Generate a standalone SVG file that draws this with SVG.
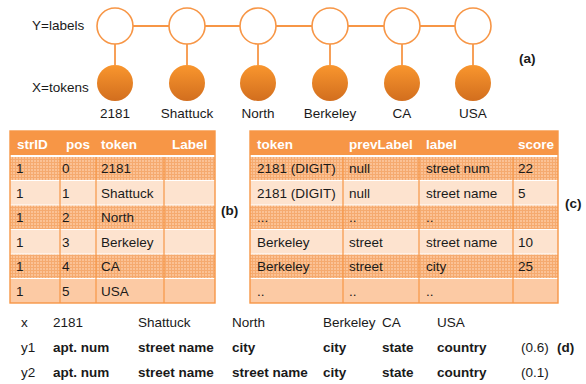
<svg xmlns="http://www.w3.org/2000/svg" width="586" height="384" viewBox="0 0 586 384">
<defs>
<linearGradient id="fillG" x1="0" y1="0" x2="0" y2="1">
<stop offset="0" stop-color="#F9962E"/>
<stop offset="1" stop-color="#D26E1E"/>
</linearGradient>
<pattern id="hatch" width="3" height="3" patternUnits="userSpaceOnUse">
<rect width="3" height="3" fill="#FBC295"/>
<path d="M0 0.5H3M0.5 0V3" stroke="#F3A263" stroke-width="1" opacity="0.75"/>
</pattern>
<style>
text{font-family:"Liberation Sans",Arial,sans-serif;font-size:13.5px;fill:#1a1a1a}
.b{font-weight:bold}
.hd{font-weight:bold;fill:#ffffff}
.d{font-size:13.5px}
.hollow{fill:#ffffff;stroke:#F79646;stroke-width:1.6}
.solid{fill:url(#fillG)}
.edge{stroke:#F79646;stroke-width:1.8;fill:none}
.hdr{fill:#F79646}
.rh{fill:url(#hatch)}
.rl{fill:#FDE3CF}
.rm{fill:#FCCAA4}
.hl{stroke:#ffffff;stroke-width:1.2}
.vl{stroke:#F79646;stroke-width:1.2}
.out{fill:none;stroke:#F79646;stroke-width:1.4}
.mid{text-anchor:middle}
</style>
</defs>

<!-- (a) chain -->
<g id="connectors">
<line class="edge" x1="133" y1="26" x2="169" y2="26"/>
<line class="edge" x1="205" y1="26" x2="240" y2="26"/>
<line class="edge" x1="276" y1="26" x2="312" y2="26"/>
<line class="edge" x1="348" y1="26" x2="384" y2="26"/>
<line class="edge" x1="420" y1="26" x2="455" y2="26"/>
<line class="edge" x1="115" y1="44" x2="115" y2="65"/>
<line class="edge" x1="187" y1="44" x2="187" y2="65"/>
<line class="edge" x1="258" y1="44" x2="258" y2="65"/>
<line class="edge" x1="330" y1="44" x2="330" y2="65"/>
<line class="edge" x1="402" y1="44" x2="402" y2="65"/>
<line class="edge" x1="473" y1="44" x2="473" y2="65"/>
</g>
<text x="32" y="30">Y=labels</text>
<text x="32" y="92">X=tokens</text>
<g id="y1"><circle class="hollow" cx="115" cy="26" r="18"/></g>
<g id="y2"><circle class="hollow" cx="187" cy="26" r="18"/></g>
<g id="y3"><circle class="hollow" cx="258" cy="26" r="18"/></g>
<g id="y4"><circle class="hollow" cx="330" cy="26" r="18"/></g>
<g id="y5"><circle class="hollow" cx="402" cy="26" r="18"/></g>
<g id="y6"><circle class="hollow" cx="473" cy="26" r="18"/></g>
<g id="x1"><circle class="solid" cx="115" cy="83" r="18"/><text class="mid" x="115" y="118">2181</text></g>
<g id="x2"><circle class="solid" cx="187" cy="83" r="18"/><text class="mid" x="187" y="118">Shattuck</text></g>
<g id="x3"><circle class="solid" cx="258" cy="83" r="18"/><text class="mid" x="258" y="118">North</text></g>
<g id="x4"><circle class="solid" cx="330" cy="83" r="18"/><text class="mid" x="330" y="118">Berkeley</text></g>
<g id="x5"><circle class="solid" cx="402" cy="83" r="18"/><text class="mid" x="402" y="118">CA</text></g>
<g id="x6"><circle class="solid" cx="473" cy="83" r="18"/><text class="mid" x="473" y="118">USA</text></g>
<text class="b" x="519" y="63">(a)</text>

<!-- (b) table -->
<g id="tableB">
<rect class="hdr" x="10" y="131" width="205" height="25"/>
<rect class="rh" x="10" y="156" width="205" height="24.5"/>
<rect class="rl" x="10" y="180.5" width="205" height="24.5"/>
<rect class="rh" x="10" y="205" width="205" height="24.5"/>
<rect class="rl" x="10" y="229.5" width="205" height="24.5"/>
<rect class="rh" x="10" y="254" width="205" height="24.5"/>
<rect class="rm" x="10" y="278.5" width="205" height="24.5"/>
<line class="hl" x1="10" y1="156" x2="215" y2="156" style="stroke-width:2.2"/>
<line class="hl" x1="10" y1="180.5" x2="215" y2="180.5"/>
<line class="hl" x1="10" y1="205" x2="215" y2="205"/>
<line class="hl" x1="10" y1="229.5" x2="215" y2="229.5"/>
<line class="hl" x1="10" y1="254" x2="215" y2="254"/>
<line class="hl" x1="10" y1="278.5" x2="215" y2="278.5"/>
<line class="vl" x1="60" y1="157" x2="60" y2="303"/>
<line class="vl" x1="96" y1="157" x2="96" y2="303"/>
<line class="vl" x1="164" y1="157" x2="164" y2="303"/>
<rect class="out" x="10" y="131" width="205" height="172"/>
<text class="hd" x="17" y="149">strID</text>
<text class="hd" x="66" y="149">pos</text>
<text class="hd" x="101" y="149">token</text>
<text class="hd" x="172" y="149">Label</text>
<text x="16" y="173">1</text><text x="62" y="173">0</text><text x="101" y="173">2181</text>
<text x="16" y="197.5">1</text><text x="62" y="197.5">1</text><text x="101" y="197.5">Shattuck</text>
<text x="16" y="222">1</text><text x="62" y="222">2</text><text x="101" y="222">North</text>
<text x="16" y="246.5">1</text><text x="62" y="246.5">3</text><text x="101" y="246.5">Berkeley</text>
<text x="16" y="271">1</text><text x="62" y="271">4</text><text x="101" y="271">CA</text>
<text x="16" y="295.5">1</text><text x="62" y="295.5">5</text><text x="101" y="295.5">USA</text>
</g>
<text class="b" x="221" y="215">(b)</text>

<!-- (c) table -->
<g id="tableC">
<rect class="hdr" x="250" y="131" width="308" height="25"/>
<rect class="rh" x="250" y="156" width="308" height="24.5"/>
<rect class="rl" x="250" y="180.5" width="308" height="24.5"/>
<rect class="rh" x="250" y="205" width="308" height="24.5"/>
<rect class="rl" x="250" y="229.5" width="308" height="24.5"/>
<rect class="rh" x="250" y="254" width="308" height="24.5"/>
<rect class="rm" x="250" y="278.5" width="308" height="24.5"/>
<line class="hl" x1="250" y1="156" x2="558" y2="156" style="stroke-width:2.2"/>
<line class="hl" x1="250" y1="180.5" x2="558" y2="180.5"/>
<line class="hl" x1="250" y1="205" x2="558" y2="205"/>
<line class="hl" x1="250" y1="229.5" x2="558" y2="229.5"/>
<line class="hl" x1="250" y1="254" x2="558" y2="254"/>
<line class="hl" x1="250" y1="278.5" x2="558" y2="278.5"/>
<line class="vl" x1="343" y1="157" x2="343" y2="303"/>
<line class="vl" x1="419" y1="157" x2="419" y2="303"/>
<line class="vl" x1="513" y1="157" x2="513" y2="303"/>
<rect class="out" x="250" y="131" width="308" height="172"/>
<text class="hd" x="257" y="149">token</text>
<text class="hd" x="349" y="149">prevLabel</text>
<text class="hd" x="426" y="149">label</text>
<text class="hd" x="518" y="149">score</text>
<text x="257" y="173">2181 (DIGIT)</text><text x="349" y="173">null</text><text x="426" y="173">street num</text><text x="518" y="173">22</text>
<text x="257" y="197.5">2181 (DIGIT)</text><text x="349" y="197.5">null</text><text x="426" y="197.5">street name</text><text x="518" y="197.5">5</text>
<text x="257" y="222">...</text><text x="349" y="222">..</text><text x="426" y="222">..</text>
<text x="257" y="246.5">Berkeley</text><text x="349" y="246.5">street</text><text x="426" y="246.5">street name</text><text x="518" y="246.5">10</text>
<text x="257" y="271">Berkeley</text><text x="349" y="271">street</text><text x="426" y="271">city</text><text x="518" y="271">25</text>
<text x="257" y="295.5">..</text><text x="349" y="295.5">..</text><text x="426" y="295.5">..</text>
</g>
<text class="b" x="565" y="208">(c)</text>

<!-- (d) -->
<g id="rowX">
<text class="d" x="21" y="327">x</text>
<text class="d" x="53" y="327">2181</text>
<text class="d" x="138" y="327">Shattuck</text>
<text class="d" x="232" y="327">North</text>
<text class="d" x="323" y="327">Berkeley</text>
<text class="d" x="382" y="327">CA</text>
<text class="d" x="437" y="327">USA</text>
</g>
<g id="rowY1">
<text class="d" x="21" y="352">y1</text>
<text class="d b" x="53" y="352">apt. num</text>
<text class="d b" x="138" y="352">street name</text>
<text class="d b" x="232" y="352">city</text>
<text class="d b" x="323" y="352">city</text>
<text class="d b" x="382" y="352">state</text>
<text class="d b" x="437" y="352">country</text>
<text class="d" x="521" y="352">(0.6)</text>
</g>
<text class="d b" x="557" y="352">(d)</text>
<g id="rowY2">
<text class="d" x="21" y="377">y2</text>
<text class="d b" x="53" y="377">apt. num</text>
<text class="d b" x="138" y="377">street name</text>
<text class="d b" x="232" y="377">street name</text>
<text class="d b" x="323" y="377">city</text>
<text class="d b" x="382" y="377">state</text>
<text class="d b" x="437" y="377">country</text>
<text class="d" x="521" y="377">(0.1)</text>
</g>
</svg>
